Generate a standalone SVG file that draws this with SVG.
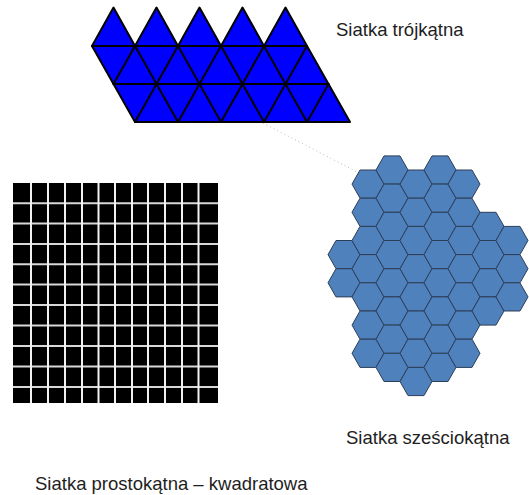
<svg xmlns="http://www.w3.org/2000/svg" xmlns:xlink="http://www.w3.org/1999/xlink" width="529" height="495" viewBox="0 0 529 495">
  <style>
    .lbl { font-family: "Liberation Sans", Arial, sans-serif; font-size: 18.5px; fill: #1e1e1e; }
    .tri { fill: #0000ff; stroke: #000; stroke-width: 2; stroke-linejoin: round; }
    .tl { stroke: #000; stroke-width: 2; stroke-linecap: round; fill: none; }
    .hex { fill: #4f81bd; stroke: #2c3e58; stroke-width: 1; }
    .gv { stroke: #f2f2f2; stroke-width: 2; }
    .gh { stroke: #d8d8d8; stroke-width: 2; }
  </style>
  <defs>
    <polygon id="hx" points="-16,0 -8,-14.1 8,-14.1 16,0 8,14.1 -8,14.1"/>
  </defs>
  <rect width="529" height="495" fill="#fff"/>

  <!-- connectors -->
  <g id="connectors">
    <line x1="263" y1="123" x2="357" y2="172" stroke="#b8b8b8" stroke-width="1" stroke-dasharray="1 3"/>
  </g>

  <!-- triangular grid -->
  <g id="triangular-grid">
    <polygon class="tri" points="92,46 113.5,7.5 135,46"/>
    <polygon class="tri" points="135,46 156.5,7.5 178,46"/>
    <polygon class="tri" points="178,46 199.5,7.5 221,46"/>
    <polygon class="tri" points="221,46 242.5,7.5 264,46"/>
    <polygon class="tri" points="264,46 285.5,7.5 307,46"/>
    <polygon class="tri" points="92,46 307,46 350,122 135,122"/>
    <line class="tl" x1="113.5" y1="84" x2="328.5" y2="84"/>
    <!-- down-right diagonals -->
    <line class="tl" x1="135" y1="46" x2="178" y2="122"/>
    <line class="tl" x1="178" y1="46" x2="221" y2="122"/>
    <line class="tl" x1="221" y1="46" x2="264" y2="122"/>
    <line class="tl" x1="264" y1="46" x2="307" y2="122"/>
    <!-- down-left diagonals -->
    <line class="tl" x1="135" y1="46" x2="113.5" y2="84"/>
    <line class="tl" x1="178" y1="46" x2="135" y2="122"/>
    <line class="tl" x1="221" y1="46" x2="178" y2="122"/>
    <line class="tl" x1="264" y1="46" x2="221" y2="122"/>
    <line class="tl" x1="307" y1="46" x2="264" y2="122"/>
    <line class="tl" x1="328.5" y1="84" x2="307" y2="122"/>
  </g>

  <!-- square grid -->
  <g id="square-grid">
    <rect x="13" y="183" width="205" height="220" fill="#000"/>
    <g class="gh">
      <line x1="13" y1="203.3" x2="218" y2="203.3"/>
      <line x1="13" y1="223.6" x2="218" y2="223.6"/>
      <line x1="13" y1="244" x2="218" y2="244"/>
      <line x1="13" y1="264.3" x2="218" y2="264.3"/>
      <line x1="13" y1="284.5" x2="218" y2="284.5"/>
      <line x1="13" y1="305" x2="218" y2="305"/>
      <line x1="13" y1="325.5" x2="218" y2="325.5"/>
      <line x1="13" y1="346" x2="218" y2="346"/>
      <line x1="13" y1="366.5" x2="218" y2="366.5"/>
      <line x1="13" y1="387" x2="218" y2="387"/>
    </g>
    <g class="gv">
      <line x1="31" y1="183" x2="31" y2="403"/>
      <line x1="48" y1="183" x2="48" y2="403"/>
      <line x1="65" y1="183" x2="65" y2="403"/>
      <line x1="82" y1="183" x2="82" y2="403"/>
      <line x1="98.5" y1="183" x2="98.5" y2="403"/>
      <line x1="115" y1="183" x2="115" y2="403"/>
      <line x1="132" y1="183" x2="132" y2="403"/>
      <line x1="148" y1="183" x2="148" y2="403"/>
      <line x1="165" y1="183" x2="165" y2="403"/>
      <line x1="182" y1="183" x2="182" y2="403"/>
      <line x1="198.5" y1="183" x2="198.5" y2="403"/>
    </g>
  </g>

  <!-- hexagonal grid -->
  <g id="hexagonal-grid">
    <!-- column A x=344 -->
    <use class="hex" href="#hx" x="344" y="254.6"/>
    <use class="hex" href="#hx" x="344" y="282.8"/>
    <!-- column B x=368 -->
    <use class="hex" href="#hx" x="368" y="184.1"/>
    <use class="hex" href="#hx" x="368" y="212.3"/>
    <use class="hex" href="#hx" x="368" y="240.5"/>
    <use class="hex" href="#hx" x="368" y="268.7"/>
    <use class="hex" href="#hx" x="368" y="296.9"/>
    <use class="hex" href="#hx" x="368" y="325.1"/>
    <use class="hex" href="#hx" x="368" y="353.3"/>
    <!-- column C x=392 -->
    <use class="hex" href="#hx" x="392" y="170"/>
    <use class="hex" href="#hx" x="392" y="198.2"/>
    <use class="hex" href="#hx" x="392" y="226.4"/>
    <use class="hex" href="#hx" x="392" y="254.6"/>
    <use class="hex" href="#hx" x="392" y="282.8"/>
    <use class="hex" href="#hx" x="392" y="311"/>
    <use class="hex" href="#hx" x="392" y="339.2"/>
    <use class="hex" href="#hx" x="392" y="367.4"/>
    <!-- column D x=416 -->
    <use class="hex" href="#hx" x="416" y="184.1"/>
    <use class="hex" href="#hx" x="416" y="212.3"/>
    <use class="hex" href="#hx" x="416" y="240.5"/>
    <use class="hex" href="#hx" x="416" y="268.7"/>
    <use class="hex" href="#hx" x="416" y="296.9"/>
    <use class="hex" href="#hx" x="416" y="325.1"/>
    <use class="hex" href="#hx" x="416" y="353.3"/>
    <use class="hex" href="#hx" x="416" y="381.5"/>
    <!-- column E x=440 -->
    <use class="hex" href="#hx" x="440" y="170"/>
    <use class="hex" href="#hx" x="440" y="198.2"/>
    <use class="hex" href="#hx" x="440" y="226.4"/>
    <use class="hex" href="#hx" x="440" y="254.6"/>
    <use class="hex" href="#hx" x="440" y="282.8"/>
    <use class="hex" href="#hx" x="440" y="311"/>
    <use class="hex" href="#hx" x="440" y="339.2"/>
    <use class="hex" href="#hx" x="440" y="367.4"/>
    <!-- column F x=464 -->
    <use class="hex" href="#hx" x="464" y="184.1"/>
    <use class="hex" href="#hx" x="464" y="212.3"/>
    <use class="hex" href="#hx" x="464" y="240.5"/>
    <use class="hex" href="#hx" x="464" y="268.7"/>
    <use class="hex" href="#hx" x="464" y="296.9"/>
    <use class="hex" href="#hx" x="464" y="325.1"/>
    <use class="hex" href="#hx" x="464" y="353.3"/>
    <!-- column G x=488 -->
    <use class="hex" href="#hx" x="488" y="226.4"/>
    <use class="hex" href="#hx" x="488" y="254.6"/>
    <use class="hex" href="#hx" x="488" y="282.8"/>
    <use class="hex" href="#hx" x="488" y="311"/>
    <!-- column H x=512 -->
    <use class="hex" href="#hx" x="512" y="240.5"/>
    <use class="hex" href="#hx" x="512" y="268.7"/>
    <use class="hex" href="#hx" x="512" y="296.9"/>
  </g>

  <!-- labels -->
  <g id="label-triangular"><text class="lbl" x="336" y="36">Siatka trójkątna</text></g>
  <g id="label-hexagonal"><text class="lbl" x="346" y="443.5">Siatka sześciokątna</text></g>
  <g id="label-square"><text class="lbl" x="35" y="489.5">Siatka prostokątna – kwadratowa</text></g>
</svg>
